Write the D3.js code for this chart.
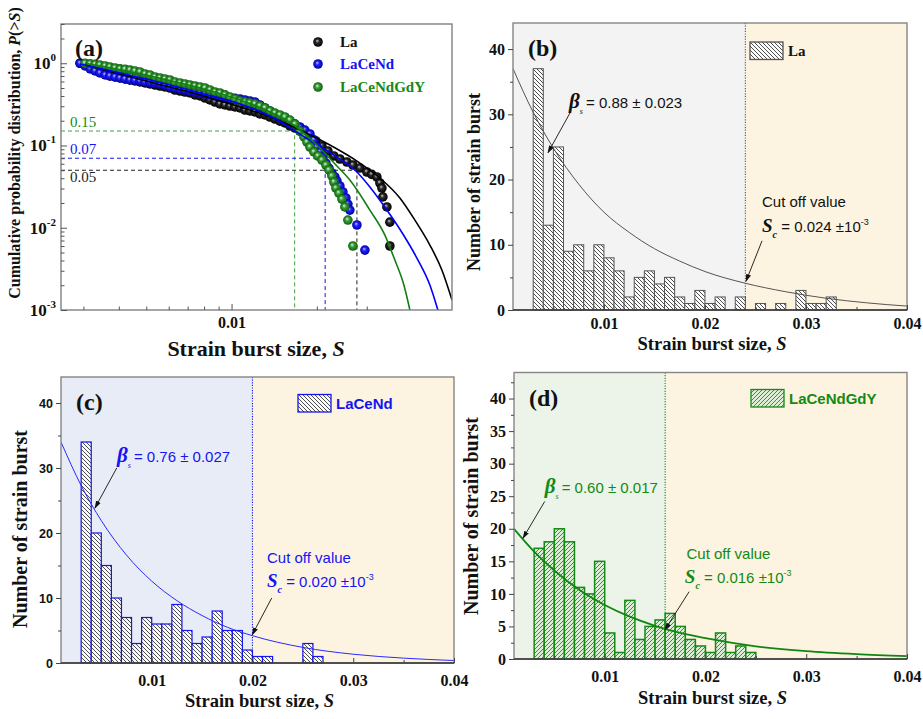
<!DOCTYPE html>
<html>
<head>
<meta charset="utf-8">
<script src="https://cdn.jsdelivr.net/npm/d3@7"></script>
<style>
  body { margin: 0; background: #fff; }
  svg { display: block; }
</style>
</head>
<body>
<svg id="chart" width="923" height="719"></svg>
<script>
// ---------- Panel (a): cumulative distributions P(>S) ----------
const laCCDF = [[0.00292,1.0],[0.00304,0.954],[0.00317,0.902],[0.00330,0.829],[0.00343,0.784],[0.00358,0.741],[0.00372,0.701],[0.00388,0.681],[0.00404,0.663],[0.00421,0.644],[0.00438,0.626],[0.00456,0.609],[0.00475,0.592],[0.00495,0.576],[0.00515,0.560],[0.00537,0.544],[0.00559,0.529],[0.00582,0.515],[0.00606,0.500],[0.00631,0.473],[0.00658,0.460],[0.00685,0.447],[0.00713,0.435],[0.00743,0.412],[0.00774,0.400],[0.00806,0.378],[0.00839,0.358],[0.00874,0.338],[0.00910,0.320],[0.00948,0.311],[0.00987,0.302],[0.01028,0.294],[0.01071,0.286],[0.01115,0.270],[0.01161,0.263],[0.01209,0.256],[0.01259,0.242],[0.01312,0.235],[0.01366,0.222],[0.01423,0.210],[0.01482,0.198],[0.01543,0.188],[0.01607,0.173],[0.01674,0.163],[0.01743,0.150],[0.01815,0.138],[0.01891,0.127],[0.01985,0.1135],[0.02084,0.0986],[0.02188,0.0857],[0.02297,0.0745],[0.02412,0.0685],[0.02553,0.0630],[0.02681,0.0579],[0.02838,0.0532],[0.03004,0.0476],[0.03125,0.0445],[0.03258,0.0414],[0.03339,0.0350],[0.03394,0.0304],[0.03421,0.0237],[0.03534,0.0179],[0.03621,0.0117],[0.03621,0.0060]];
const laceCCDF = [[0.00292,1.0],[0.00304,0.927],[0.00317,0.853],[0.00330,0.806],[0.00343,0.762],[0.00358,0.720],[0.00372,0.701],[0.00388,0.681],[0.00404,0.663],[0.00421,0.644],[0.00438,0.626],[0.00456,0.620],[0.00475,0.609],[0.00495,0.592],[0.00515,0.585],[0.00537,0.576],[0.00559,0.560],[0.00582,0.544],[0.00606,0.515],[0.00631,0.500],[0.00658,0.487],[0.00685,0.473],[0.00713,0.460],[0.00743,0.447],[0.00774,0.435],[0.00806,0.423],[0.00839,0.412],[0.00874,0.400],[0.00910,0.389],[0.00948,0.385],[0.00987,0.378],[0.01028,0.375],[0.01071,0.368],[0.01115,0.358],[0.01161,0.348],[0.01209,0.338],[0.01259,0.311],[0.01312,0.286],[0.01366,0.263],[0.01423,0.242],[0.01482,0.222],[0.01543,0.210],[0.01607,0.198],[0.01674,0.182],[0.01743,0.168],[0.01815,0.154],[0.01891,0.138],[0.01953,0.117],[0.02001,0.0959],[0.02051,0.0834],[0.02102,0.0724],[0.02153,0.0612],[0.02206,0.0532],[0.02260,0.0463],[0.02316,0.0414],[0.02354,0.0370],[0.02412,0.0322],[0.02472,0.0272],[0.02533,0.0230],[0.02574,0.0194],[0.02616,0.0164],[0.02770,0.0108],[0.02956,0.00535]];
const gdyCCDF = [[0.00304,1.0],[0.00317,0.985],[0.00330,0.970],[0.00343,0.954],[0.00358,0.927],[0.00372,0.902],[0.00388,0.877],[0.00404,0.853],[0.00421,0.845],[0.00438,0.829],[0.00456,0.806],[0.00475,0.784],[0.00495,0.741],[0.00515,0.720],[0.00537,0.681],[0.00559,0.663],[0.00582,0.644],[0.00606,0.626],[0.00631,0.592],[0.00658,0.576],[0.00685,0.560],[0.00713,0.544],[0.00743,0.529],[0.00774,0.515],[0.00806,0.500],[0.00839,0.473],[0.00874,0.447],[0.00910,0.435],[0.00948,0.412],[0.00987,0.389],[0.01028,0.368],[0.01071,0.348],[0.01115,0.338],[0.01161,0.329],[0.01209,0.320],[0.01259,0.302],[0.01312,0.286],[0.01366,0.263],[0.01423,0.248],[0.01482,0.235],[0.01543,0.222],[0.01607,0.204],[0.01674,0.182],[0.01743,0.150],[0.01801,0.127],[0.01845,0.110],[0.01891,0.0959],[0.01953,0.0834],[0.02018,0.0745],[0.02084,0.0666],[0.02153,0.0579],[0.02206,0.0504],[0.02260,0.0426],[0.02297,0.0360],[0.02335,0.0304],[0.02393,0.0264],[0.02452,0.0223],[0.02512,0.0179],[0.02574,0.0124],[0.02681,0.0060]];

// fitted curves (truncated power law)
const laFitCCDF = [[0.00304,0.954],[0.00515,0.592],[0.00774,0.412],[0.01071,0.294],[0.01366,0.222],[0.01743,0.1544],[0.02224,0.1014],[0.02838,0.0612],[0.03339,0.0402],[0.03928,0.0230],[0.04437,0.0124],[0.05012,0.00616],[0.05526,0.00306],[0.06,0.00132]];
const laceFitCCDF = [[0.00292,0.981],[0.00515,0.626],[0.00774,0.435],[0.01071,0.320],[0.01366,0.228],[0.01786,0.1305],[0.02354,0.0724],[0.02770,0.0476],[0.03078,0.0313],[0.03534,0.0164],[0.04025,0.00839],[0.04510,0.00428],[0.05012,0.00201],[0.05349,0.001]];
const gdyFitCCDF = [[0.00304,1.0],[0.00515,0.701],[0.00774,0.500],[0.01071,0.358],[0.01366,0.256],[0.01674,0.1726],[0.02051,0.0932],[0.02354,0.0563],[0.02616,0.0380],[0.03078,0.0164],[0.03477,0.00815],[0.03771,0.00405],[0.04058,0.00201],[0.04260,0.001]];

// dashed guides: probability level and strain size where each curve bends
const guideLabels = ["0.15", "0.07", "0.05"];
const guideP = [0.15, 0.07, 0.05];
const guideS = [0.0167, 0.0214, 0.0277];

const seriesNames = ["La", "LaCeNd", "LaCeNdGdY"];

// ---------- Panels (b)-(d): histograms ----------
const binWidth = 0.001;
const laBins = [0.003,0.004,0.005,0.006,0.007,0.008,0.009,0.010,0.011,0.012,0.013,0.014,0.015,0.016,0.017,0.018,0.019,0.020,0.021,0.022,0.023,0.024,0.025,0.026,0.027,0.028,0.029,0.030,0.031,0.032];
const laCounts = [37,13,25,9,10,6,10,8,6,2,5,6,4,5,2,1,3,1,2,0,2,0,1,0,1,0,3,1,1,2];
const laceBins = [0.003,0.004,0.005,0.006,0.007,0.008,0.009,0.010,0.011,0.012,0.013,0.014,0.015,0.016,0.017,0.018,0.019,0.020,0.021,0.022,0.023,0.024,0.025,0.026];
const laceCounts = [34,20,15,10,7,3,7,6,6,9,5,3,4,8,5,5,2,1,1,0,0,0,3,1];
const gdyBins = [0.003,0.004,0.005,0.006,0.007,0.008,0.009,0.010,0.011,0.012,0.013,0.014,0.015,0.016,0.017,0.018,0.019,0.020,0.021,0.022,0.023,0.024];
const gdyCounts = [17,18,20,18,11,10,15,4,1,9,3,5,6,7,5,3,2,1,4,1,2,1];

const fitS = [0.001,0.003,0.005,0.0075,0.01,0.0125,0.015,0.0175,0.02,0.024,0.028,0.032,0.036,0.04];
const laFitN = [37,30.3,24.8,19.3,15.0,11.9,9.4,7.5,5.9,4.1,2.8,1.8,1.1,0.6];
const fitS2 = [0.001,0.003,0.005,0.0075,0.01,0.0125,0.015,0.0175,0.02,0.025,0.03,0.035,0.04];
const laceFitN = [34,27.3,21.9,16.6,12.6,9.6,7.3,5.5,4.2,2.4,1.35,0.75,0.38];
const gdyFitN = [20,16.5,13.6,10.6,8.3,6.5,5.1,4.0,3.2,1.95,1.2,0.75,0.45];

const betaTexts = ["= 0.88 \u00B1 0.023", "= 0.76 \u00B1 0.027", "= 0.60 \u00B1 0.017"];
const cutoffValues = [0.024, 0.020, 0.016];
const cutoffTexts = [" = 0.024 \u00B110", " = 0.020 \u00B110", " = 0.016 \u00B110"];

const xTickLabels = [0.01, 0.02, 0.03, 0.04];

// ---------- drawing ----------
const SERIF = "'Liberation Serif','Times New Roman',serif";
const SANS = "'Liberation Sans',Arial,sans-serif";
const BLUE = "#1414f0";
const GREEN = "#138a13";
const CREAM = "#fdf3e1";

const svg = d3.select("#chart");
svg.append("rect").attr("width", 923).attr("height", 719).attr("fill", "#fff");
const defs = svg.append("defs");

function hatch(id, dir, color, bg, sw) {
  const p = defs.append("pattern").attr("id", id)
    .attr("patternUnits", "userSpaceOnUse").attr("width", 4).attr("height", 4);
  p.append("rect").attr("width", 4).attr("height", 4).attr("fill", bg);
  const d = dir === "back"
    ? "M-1,-1L5,5M-1,3L1,5M3,-1L5,1"
    : "M-1,5L5,-1M-1,1L1,-1M3,5L5,3";
  p.append("path").attr("d", d).attr("stroke", color).attr("stroke-width", sw);
}
hatch("hatchLa", "back", "#222", "#fbfbfb", 0.8);
hatch("hatchLace", "back", "#222", "#fbfbfb", 0.8);
hatch("hatchGdy", "fwd", "#1f8a1f", "#dcefd6", 0.9);

function ballGradient(id, hi, mid, edge) {
  const g = defs.append("radialGradient").attr("id", id)
    .attr("cx", "50%").attr("cy", "50%").attr("r", "50%").attr("fx", "40%").attr("fy", "35%");
  g.append("stop").attr("offset", "0%").attr("stop-color", hi);
  g.append("stop").attr("offset", "40%").attr("stop-color", mid);
  g.append("stop").attr("offset", "100%").attr("stop-color", edge);
}
ballGradient("ballLa", "#c8c8c8", "#2a2a2a", "#000");
ballGradient("ballLace", "#c0c4ff", "#2020ff", "#0000a0");
ballGradient("ballGdy", "#e8f6e6", "#3a9f3a", "#0d5e0d");

defs.append("marker").attr("id", "arr").attr("viewBox", "0 0 10 10")
  .attr("refX", 9).attr("refY", 5).attr("markerWidth", 8).attr("markerHeight", 8)
  .attr("markerUnits", "userSpaceOnUse").attr("orient", "auto")
  .append("path").attr("d", "M0,1.8L10,5L0,8.2z").attr("fill", "#111");

// ===== Panel (a) =====
(function panelA() {
  const L = 61, R = 452, T = 24, B = 310;
  const x = d3.scaleLog().domain([0.0025, 0.06]).range([L, R]);
  const y = d3.scaleLog().domain([0.001, 3]).range([B, T]);
  const g = svg.append("g");
  defs.append("clipPath").attr("id", "clipA").append("rect")
    .attr("x", L).attr("y", T).attr("width", R - L).attr("height", B - T);

  // guides
  const guideColors = [GREEN, BLUE, "#222"];
  guideP.forEach((p, i) => {
    g.append("path")
      .attr("d", `M${x(0.0025)},${y(p)}H${x(guideS[i])}V${y(0.001)}`)
      .attr("fill", "none").attr("stroke", guideColors[i]).attr("stroke-width", 1)
      .attr("stroke-dasharray", "4,3").attr("opacity", i === 0 ? 0.8 : 1);
    g.append("text").attr("x", 70).attr("y", i === 2 ? y(p) + 12 : y(p) - 4)
      .attr("font-family", SERIF).attr("font-size", 15).attr("fill", i === 2 ? "#222" : guideColors[i])
      .text(guideLabels[i]);
  });

  // markers
  const sets = [[laCCDF, "ballLa"], [laceCCDF, "ballLace"], [gdyCCDF, "ballGdy"]];
  sets.forEach(([data, grad]) => {
    g.append("g").selectAll("circle").data(data).join("circle")
      .attr("cx", d => x(d[0])).attr("cy", d => y(d[1])).attr("r", 4.8)
      .attr("fill", `url(#${grad})`);
  });

  // fitted curves
  const line = d3.line().x(d => x(d[0])).y(d => y(d[1])).curve(d3.curveMonotoneX);
  [[laFitCCDF, "#000"], [laceFitCCDF, "#0000ff"], [gdyFitCCDF, "#118011"]].forEach(([data, c]) => {
    g.append("path").datum(data).attr("d", line).attr("fill", "none")
      .attr("stroke", c).attr("stroke-width", 1.6).attr("clip-path", "url(#clipA)");
  });

  // frame
  g.append("rect").attr("x", L).attr("y", T).attr("width", R - L).attr("height", B - T)
    .attr("fill", "none").attr("stroke", "#808080").attr("stroke-width", 1.4);

  // y ticks (inward)
  const yMajor = [0.001, 0.01, 0.1, 1];
  const yMinor = [];
  [0.001, 0.01, 0.1, 1].forEach(base => { for (let k = 2; k <= 9; k++) if (base * k <= 3) yMinor.push(base * k); });
  const yAxis = g.append("g").attr("transform", `translate(${L},0)`)
    .call(d3.axisRight(y).tickValues(yMajor).tickSize(6).tickFormat(""));
  const yAxisMinor = g.append("g").attr("transform", `translate(${L},0)`)
    .call(d3.axisRight(y).tickValues(yMinor).tickSize(3.5).tickFormat(""));
  [yAxis, yAxisMinor].forEach(a => { a.select(".domain").remove(); a.selectAll("line").attr("stroke", "#555"); });
  const expo = [-3, -2, -1, 0];
  yMajor.forEach((v, i) => {
    const t = g.append("text").attr("x", L - 5).attr("y", y(v) + 6).attr("text-anchor", "end")
      .attr("font-family", SERIF).attr("font-weight", "bold").attr("fill", "#111");
    t.append("tspan").attr("font-size", 17).text("10");
    t.append("tspan").attr("font-size", 11).attr("dy", -8).text(String(expo[i]));
  });

  // x ticks (inward)
  const xMinor = [0.003, 0.004, 0.005, 0.006, 0.007, 0.008, 0.009, 0.02, 0.03];
  const xAxis = g.append("g").attr("transform", `translate(0,${B})`)
    .call(d3.axisBottom(x).tickValues([0.01]).tickSize(-6).tickPadding(7).tickFormat(d3.format(".2f")));
  const xAxisMinor = g.append("g").attr("transform", `translate(0,${B})`)
    .call(d3.axisBottom(x).tickValues(xMinor).tickSize(-3.5).tickFormat(""));
  [xAxis, xAxisMinor].forEach(a => { a.select(".domain").remove(); a.selectAll("line").attr("stroke", "#555"); });
  xAxis.selectAll("text").attr("font-family", SERIF).attr("font-weight", "bold")
    .attr("font-size", 16).attr("fill", "#111");

  // titles
  const xt = g.append("text").attr("x", 256).attr("y", 356).attr("text-anchor", "middle")
    .attr("font-family", SERIF).attr("font-weight", "bold").attr("font-size", 22).attr("fill", "#111");
  xt.append("tspan").text("Strain burst size, ");
  xt.append("tspan").attr("font-style", "italic").text("S");

  const yt = g.append("text").attr("transform", "translate(20,153) rotate(-90)").attr("text-anchor", "middle")
    .attr("font-family", SERIF).attr("font-weight", "bold").attr("font-size", 16).attr("fill", "#111");
  yt.append("tspan").text("Cumulative probability distribution, ");
  yt.append("tspan").attr("font-style", "italic").text("P");
  yt.append("tspan").text("(>");
  yt.append("tspan").attr("font-style", "italic").text("S");
  yt.append("tspan").text(")");

  g.append("text").attr("x", 75).attr("y", 56).attr("font-family", SERIF)
    .attr("font-weight", "bold").attr("font-size", 24).attr("fill", "#111").text("(a)");

  // legend
  const legColors = ["#111", BLUE, GREEN];
  const legGrad = ["ballLa", "ballLace", "ballGdy"];
  const legY = [42, 64, 87];
  seriesNames.forEach((n, i) => {
    g.append("circle").attr("cx", 318).attr("cy", legY[i]).attr("r", 4.8).attr("fill", `url(#${legGrad[i]})`);
    g.append("text").attr("x", 340).attr("y", legY[i] + 5).attr("font-family", SERIF)
      .attr("font-weight", "bold").attr("font-size", 15).attr("fill", legColors[i]).text(n);
  });
})();

// ===== Histogram panels =====
function histPanel(o) {
  const x = d3.scaleLinear().domain([0.001, 0.04]).range([o.L, o.R]);
  const y = d3.scaleLinear().domain([0, 44]).range([o.B, o.T]);
  const g = svg.append("g");
  const clipId = "clip" + o.name;
  defs.append("clipPath").attr("id", clipId).append("rect")
    .attr("x", o.L).attr("y", o.T).attr("width", o.R - o.L).attr("height", o.B - o.T);

  // background zones split at the cut-off value
  g.append("rect").attr("x", o.L).attr("y", o.T).attr("width", x(o.cut) - o.L).attr("height", o.B - o.T).attr("fill", o.bg);
  g.append("rect").attr("x", x(o.cut)).attr("y", o.T).attr("width", o.R - x(o.cut)).attr("height", o.B - o.T).attr("fill", CREAM);

  // bars
  const bars = o.bins.map((s, i) => ({ s, n: o.counts[i] })).filter(d => d.n > 0);
  g.append("g").selectAll("rect").data(bars).join("rect")
    .attr("x", d => x(d.s)).attr("width", d => x(d.s + binWidth) - x(d.s))
    .attr("y", d => y(d.n)).attr("height", d => y(0) - y(d.n))
    .attr("fill", `url(#${o.pattern})`).attr("stroke", o.barStroke).attr("stroke-width", o.barSW);

  // cut-off dotted line
  g.append("line").attr("x1", x(o.cut)).attr("x2", x(o.cut)).attr("y1", o.T).attr("y2", o.B)
    .attr("stroke", o.cutColor).attr("stroke-width", 1.1).attr("stroke-dasharray", "1.2,1.4");

  // fitted curve
  const line = d3.line().x(d => x(d[0])).y(d => y(d[1])).curve(d3.curveMonotoneX);
  g.append("path").datum(o.fitS.map((s, i) => [s, o.fitN[i]])).attr("d", line)
    .attr("fill", "none").attr("stroke", o.fitColor).attr("stroke-width", o.fitSW)
    .attr("clip-path", `url(#${clipId})`);

  // frame
  g.append("rect").attr("x", o.L).attr("y", o.T).attr("width", o.R - o.L).attr("height", o.B - o.T)
    .attr("fill", "none").attr("stroke", "#858585").attr("stroke-width", 1.4);
  g.append("line").attr("x1", o.L).attr("x2", o.R).attr("y1", o.B).attr("y2", o.B)
    .attr("stroke", "#333").attr("stroke-width", 1.4);

  // axes
  const xA = g.append("g").attr("transform", `translate(0,${o.B})`)
    .call(d3.axisBottom(x).tickValues(xTickLabels).tickSize(-5).tickPadding(o.xPad).tickFormat(d3.format(".2f")));
  const xAm = g.append("g").attr("transform", `translate(0,${o.B})`)
    .call(d3.axisBottom(x).tickValues([0.005, 0.015, 0.025, 0.035]).tickSize(-3).tickFormat(""));
  const yA = g.append("g").attr("transform", `translate(${o.L},0)`)
    .call(d3.axisLeft(y).tickValues(o.yMajor).tickSize(5).tickPadding(3));
  const yAm = g.append("g").attr("transform", `translate(${o.L},0)`)
    .call(d3.axisLeft(y).tickValues(o.yMinor).tickSize(3).tickFormat(""));
  [xA, xAm, yA, yAm].forEach(a => { a.select(".domain").remove(); a.selectAll("line").attr("stroke", "#444"); });
  xA.selectAll("text").attr("font-family", SERIF).attr("font-weight", "bold")
    .attr("font-size", 16).attr("fill", "#111");
  yA.selectAll("text").attr("font-family", o.yLabelFont).attr("font-weight", "bold")
    .attr("font-size", o.yLabelSize).attr("fill", "#111");

  // titles
  const xt = g.append("text").attr("x", (o.L + o.R) / 2 + 2).attr("y", o.B + o.xTitleDy).attr("text-anchor", "middle")
    .attr("font-family", SERIF).attr("font-weight", "bold").attr("font-size", 18.5).attr("fill", "#111");
  xt.append("tspan").text("Strain burst size, ");
  xt.append("tspan").attr("font-style", "italic").text("S");
  g.append("text").attr("transform", `translate(${o.yTitleX},${o.yTitleY}) rotate(-90)`).attr("text-anchor", "middle")
    .attr("font-family", SERIF).attr("font-weight", "bold").attr("font-size", o.yTitleSize).attr("fill", "#111")
    .text("Number of strain burst");

  g.append("text").attr("x", o.L + 15).attr("y", o.T + 33).attr("font-family", SERIF)
    .attr("font-weight", "bold").attr("font-size", 24).attr("fill", "#111").text(o.tag);

  // legend
  g.append("rect").attr("x", o.legX).attr("y", o.legY).attr("width", 33).attr("height", 17.5)
    .attr("fill", `url(#${o.pattern})`).attr("stroke", o.barStroke).attr("stroke-width", 1.3);
  g.append("text").attr("x", o.legX + 38).attr("y", o.legY + 14).attr("font-family", o.legFont)
    .attr("font-weight", "bold").attr("font-size", 15).attr("fill", o.textColor).text(o.name);

  // beta annotation
  const bt = g.append("text").attr("x", x(o.betaAt[0])).attr("y", y(o.betaAt[1])).attr("fill", o.textColor);
  bt.append("tspan").attr("font-family", SERIF).attr("font-style", "italic").attr("font-weight", "bold")
    .attr("font-size", 21).text("\u03B2");
  bt.append("tspan").attr("font-family", SERIF).attr("font-style", "italic").attr("font-size", 8)
    .attr("dy", 6).text("s");
  bt.append("tspan").attr("font-family", SANS).attr("font-size", 15).attr("dy", -6).attr("dx", 3).text(o.betaText);
  g.append("line").attr("x1", x(o.betaArrow[0])).attr("y1", y(o.betaArrow[1]))
    .attr("x2", x(o.betaArrow[2])).attr("y2", y(o.betaArrow[3]))
    .attr("stroke", "#111").attr("stroke-width", 0.9).attr("marker-end", "url(#arr)");

  // cut-off annotation
  g.append("text").attr("x", x(o.cutTextAt[0])).attr("y", y(o.cutTextAt[1]))
    .attr("font-family", SANS).attr("font-size", 15).attr("fill", o.textColor).text("Cut off value");
  const st = g.append("text").attr("x", x(o.scAt[0])).attr("y", y(o.scAt[1])).attr("fill", o.textColor);
  st.append("tspan").attr("font-family", SERIF).attr("font-style", "italic").attr("font-weight", "bold")
    .attr("font-size", 19).text("S");
  st.append("tspan").attr("font-family", SERIF).attr("font-style", "italic").attr("font-weight", "bold")
    .attr("font-size", 10).attr("dy", 6).text("c");
  st.append("tspan").attr("font-family", SANS).attr("font-size", 15).attr("dy", -6).text(o.cutText);
  st.append("tspan").attr("font-family", SANS).attr("font-size", 9).attr("dy", -7).text("-3");
  g.append("line").attr("x1", x(o.cutArrow[0])).attr("y1", y(o.cutArrow[1]))
    .attr("x2", x(o.cutArrow[2])).attr("y2", y(o.cutArrow[3]))
    .attr("stroke", "#111").attr("stroke-width", 0.9).attr("marker-end", "url(#arr)");
}

histPanel({
  tag: "(b)", name: seriesNames[0], L: 513, R: 907, T: 23, B: 310,
  bins: laBins, counts: laCounts, cut: cutoffValues[0],
  bg: "#f3f3f3", pattern: "hatchLa", barStroke: "#555", barSW: 1, cutColor: "#555",
  fitS: fitS, fitN: laFitN, fitColor: "#555", fitSW: 1,
  yMajor: [0, 10, 20, 30, 40], yMinor: [5, 15, 25, 35], yLabelFont: SERIF, yLabelSize: 16,
  xPad: 8, xTitleDy: 40, yTitleX: 480, yTitleY: 182, yTitleSize: 18,
  legX: 750, legY: 42, legFont: SERIF, textColor: "#111",
  betaText: betaTexts[0], betaAt: [0.00655, 31.0], betaArrow: [0.00664, 30.2, 0.00446, 24.1],
  cutText: cutoffTexts[0], cutTextAt: [0.02565, 15.8], scAt: [0.02565, 12.0],
  cutArrow: [0.02565, 10.6, 0.02406, 4.4]
});

histPanel({
  tag: "(c)", name: seriesNames[1], L: 61, R: 454, T: 377, B: 663,
  bins: laceBins, counts: laceCounts, cut: cutoffValues[1],
  bg: "#e8ecf6", pattern: "hatchLace", barStroke: BLUE, barSW: 1.2, cutColor: BLUE,
  fitS: fitS2, fitN: laceFitN, fitColor: "#2a2aff", fitSW: 1,
  yMajor: [0, 10, 20, 30, 40], yMinor: [5, 15, 25, 35], yLabelFont: SANS, yLabelSize: 12.5,
  xPad: 12, xTitleDy: 44, yTitleX: 27, yTitleY: 529, yTitleSize: 20,
  legX: 298, legY: 394.5, legFont: SANS, textColor: BLUE,
  betaText: betaTexts[1], betaAt: [0.00656, 31.0], betaArrow: [0.00653, 30.0, 0.00437, 23.85],
  cutText: cutoffTexts[1], cutTextAt: [0.02144, 15.43], scAt: [0.02144, 11.74],
  cutArrow: [0.02191, 10.0, 0.01998, 4.35]
});

histPanel({
  tag: "(d)", name: seriesNames[2], L: 514, R: 907, T: 372.5, B: 659,
  bins: gdyBins, counts: gdyCounts, cut: cutoffValues[2],
  bg: "#ecf4ea", pattern: "hatchGdy", barStroke: "#138a13", barSW: 1.5, cutColor: GREEN,
  fitS: fitS2, fitN: gdyFitN, fitColor: "#0f860f", fitSW: 1.8,
  yMajor: [0, 5, 10, 15, 20, 25, 30, 35, 40], yMinor: [2.5, 7.5, 12.5, 17.5, 22.5, 27.5, 32.5, 37.5, 42.5],
  yLabelFont: SERIF, yLabelSize: 16,
  xPad: 12, xTitleDy: 45, yTitleX: 478, yTitleY: 516, yTitleSize: 20,
  legX: 751, legY: 389.5, legFont: SANS, textColor: GREEN,
  betaText: betaTexts[2], betaAt: [0.00405, 25.5], betaArrow: [0.00405, 24.2, 0.00189, 18.55],
  cutText: cutoffTexts[2], cutTextAt: [0.01812, 15.37], scAt: [0.01795, 11.68],
  cutArrow: [0.01838, 10.34, 0.01597, 4.46]
});
</script>
</body>
</html>
